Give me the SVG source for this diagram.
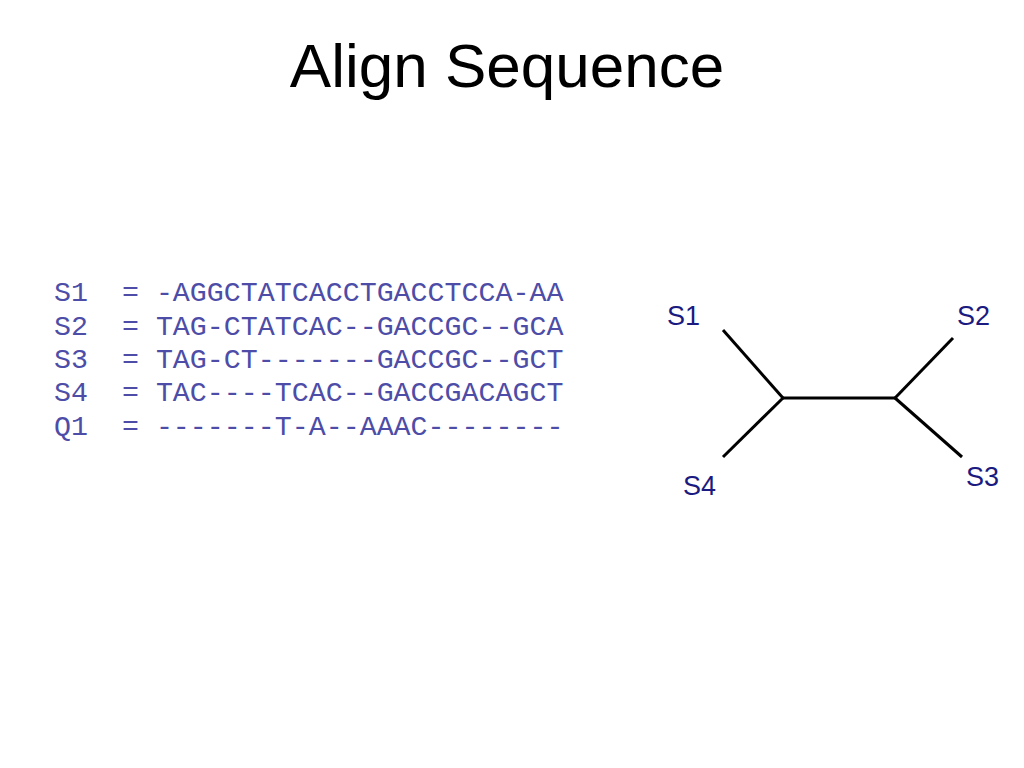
<svg xmlns="http://www.w3.org/2000/svg" width="1024" height="768" viewBox="0 0 1024 768">
<style>
.title{font-family:"Liberation Sans",Arial,sans-serif;font-size:62px;fill:#000}
.seq{font-family:"Liberation Mono","Courier New",monospace;font-size:28.3px;fill:#4d4da8;white-space:pre}
.lbl{font-family:"Liberation Sans",Arial,sans-serif;font-size:27px;fill:#1a1a80}
.edge{stroke:#000;stroke-width:3;fill:none;stroke-linecap:butt}
</style>
<rect width="1024" height="768" fill="#fff"/>
<text class="title" x="507" y="87" text-anchor="middle">Align Sequence</text>
<g id="alignment">
<text class="seq" x="54" y="301" xml:space="preserve">S1  = -AGGCTATCACCTGACCTCCA-AA</text>
<text class="seq" x="54" y="335" xml:space="preserve">S2  = TAG-CTATCAC--GACCGC--GCA</text>
<text class="seq" x="54" y="368" xml:space="preserve">S3  = TAG-CT-------GACCGC--GCT</text>
<text class="seq" x="54" y="401" xml:space="preserve">S4  = TAC----TCAC--GACCGACAGCT</text>
<text class="seq" x="54" y="435" xml:space="preserve">Q1  = -------T-A--AAAC--------</text>
</g>
<g id="connectors">
<line class="edge" x1="723" y1="330" x2="783" y2="398"/>
<line class="edge" x1="723" y1="457" x2="783" y2="398"/>
<line class="edge" x1="783" y1="398" x2="895" y2="398"/>
<line class="edge" x1="895" y1="398" x2="953" y2="338"/>
<line class="edge" x1="895" y1="398" x2="962" y2="457"/>
</g>
<g id="node-S1"><text class="lbl" x="667" y="325">S1</text></g>
<g id="node-S2"><text class="lbl" x="957" y="325">S2</text></g>
<g id="node-S3"><text class="lbl" x="966" y="486">S3</text></g>
<g id="node-S4"><text class="lbl" x="683" y="495">S4</text></g>
</svg>
